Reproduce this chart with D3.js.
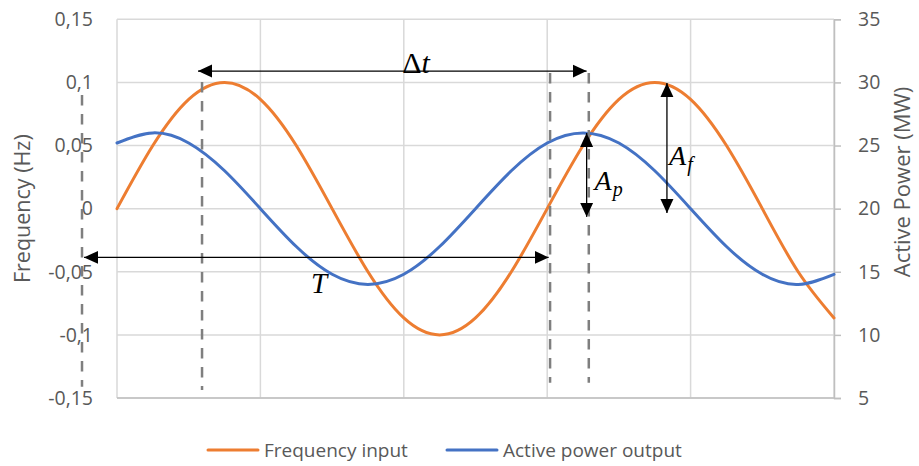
<!DOCTYPE html>
<html>
<head>
<meta charset="utf-8">
<script src="https://cdn.jsdelivr.net/npm/d3@7"></script>
<style>
  html, body { margin: 0; padding: 0; background: #fff; }
  svg { display: block; }
</style>
</head>
<body>
<div id="chart"></div>
<script>
// ---- data ----
const xValues = [0, 0.25, 0.5, 0.75, 1, 1.25, 1.5, 1.75, 2, 2.25, 2.5, 2.75, 3, 3.25, 3.5, 3.75, 4, 4.25, 4.5, 4.75, 5];
const frequencyInput = [0, 0.05, 0.0866, 0.1, 0.0866, 0.05, 0, -0.05, -0.0866, -0.1, -0.0866, -0.05, 0, 0.05, 0.0866, 0.1, 0.0866, 0.05, 0, -0.05, -0.0866];
const activePowerOutput = [25.2, 26, 25.2, 23, 20, 17, 14.8, 14, 14.8, 17, 20, 23, 25.2, 26, 25.2, 23, 20, 17, 14.8, 14, 14.8];
const leftTicks = [-0.15, -0.1, -0.05, 0, 0.05, 0.1, 0.15];
const leftTickLabels = ["-0,15", "-0,1", "-0,05", "0", "0,05", "0,1", "0,15"];
const rightTicks = [5, 10, 15, 20, 25, 30, 35];
const xGrid = [0, 1, 2, 3, 4, 5];
const seriesNames = ["Frequency input", "Active power output"];
const seriesColors = ["#ED7D31", "#4472C4"];
const axisTitles = ["Frequency (Hz)", "Active Power (MW)"];
// annotation marks, in data units (x, frequency axis)
const dashedLines = [
  { x: -0.244, y0: 0.090, y1: -0.141 },
  { x: 0.593, y0: 0.1003, y1: -0.1437 },
  { x: 3.02, y0: 0.1075, y1: -0.138 },
  { x: 3.29, y0: 0.1075, y1: -0.138 }
];
const hArrows = [
  { y: 0.109, x0: 0.565, x1: 3.275 },   // Δt
  { y: -0.0386, x0: -0.23, x1: 3.01 }   // T
];
const vArrows = [
  { x: 3.275, y0: 0.0599, y1: -0.0065 }, // A_p
  { x: 3.835, y0: 0.0995, y1: -0.0035 }  // A_f
];

// ---- layout ----
const W = 919, H = 466;
const m = { left: 117, right: 919 - 834, top: 19.3, bottom: 466 - 398 };

const svg = d3.select("#chart").append("svg").attr("width", W).attr("height", H);

const x = d3.scaleLinear().domain([0, 5]).range([m.left, W - m.right]);
const yL = d3.scaleLinear().domain([-0.15, 0.15]).range([H - m.bottom, m.top]);
const yR = d3.scaleLinear().domain([5, 35]).range([H - m.bottom, m.top]);

const font = "'Open Sans', 'Noto Sans', sans-serif";
const textColor = "#595959";

// gridlines
const grid = svg.append("g");
grid.selectAll("line.h").data(leftTicks).join("line")
  .attr("x1", x(0)).attr("x2", x(5))
  .attr("y1", d => yL(d)).attr("y2", d => yL(d))
  .attr("stroke", "#d9d9d9").attr("stroke-width", 1.5);
grid.selectAll("line.v").data(xGrid).join("line")
  .attr("x1", d => x(d)).attr("x2", d => x(d))
  .attr("y1", yL(0.15)).attr("y2", yL(-0.15))
  .attr("stroke", "#d9d9d9").attr("stroke-width", 1.5);

// left axis (labels only)
const leftAxis = d3.axisLeft(yL).tickValues(leftTicks)
  .tickFormat((d, i) => leftTickLabels[i]).tickSize(0).tickPadding(24);
const gL = svg.append("g").attr("transform", `translate(${m.left},0)`).call(leftAxis);
gL.select(".domain").remove();
gL.selectAll("text").attr("font-family", font).attr("font-size", 19.5).attr("fill", textColor);

// bottom axis line
svg.append("line")
  .attr("x1", x(0)).attr("x2", x(5)).attr("y1", yL(-0.15)).attr("y2", yL(-0.15))
  .attr("stroke", "#bfbfbf").attr("stroke-width", 1.5);

// right axis
const rightAxis = d3.axisRight(yR).tickValues(rightTicks).tickSize(7).tickPadding(17);
const gR = svg.append("g").attr("transform", `translate(${x(5)},0)`).call(rightAxis);
gR.select(".domain").attr("stroke", "#bfbfbf").attr("stroke-width", 1.5);
gR.selectAll(".tick line").attr("stroke", "#bfbfbf").attr("stroke-width", 1.5);
gR.selectAll("text").attr("font-family", font).attr("font-size", 19.5).attr("fill", textColor);

// axis titles
svg.append("text")
  .attr("transform", `translate(30,${yL(0)}) rotate(-90)`)
  .attr("text-anchor", "middle")
  .attr("font-family", font).attr("font-size", 21.5).attr("fill", textColor)
  .text(axisTitles[0]);
svg.append("text")
  .attr("transform", `translate(910,182) rotate(-90)`)
  .attr("text-anchor", "middle")
  .attr("font-family", font).attr("font-size", 22).attr("fill", textColor)
  .text(axisTitles[1]);

// series
const lineF = d3.line().x((d, i) => x(xValues[i])).y(d => yL(d)).curve(d3.curveNatural);
const lineP = d3.line().x((d, i) => x(xValues[i])).y(d => yR(d)).curve(d3.curveNatural);
svg.append("path").datum(frequencyInput).attr("d", lineF)
  .attr("fill", "none").attr("stroke", seriesColors[0]).attr("stroke-width", 3).attr("stroke-linecap", "round");
svg.append("path").datum(activePowerOutput).attr("d", lineP)
  .attr("fill", "none").attr("stroke", seriesColors[1]).attr("stroke-width", 3).attr("stroke-linecap", "round");

// dashed vertical lines
svg.append("g").selectAll("line").data(dashedLines).join("line")
  .attr("x1", d => x(d.x)).attr("x2", d => x(d.x))
  .attr("y1", d => yL(d.y0)).attr("y2", d => yL(d.y1))
  .attr("stroke", "#7f7f7f").attr("stroke-width", 2.5).attr("stroke-dasharray", "10.5,8.5");

// arrows
const defs = svg.append("defs");
defs.append("marker").attr("id", "ah").attr("viewBox", "0 0 14 14")
  .attr("refX", 14).attr("refY", 7).attr("markerWidth", 14).attr("markerHeight", 14)
  .attr("markerUnits", "userSpaceOnUse").attr("orient", "auto-start-reverse")
  .append("path").attr("d", "M0,0.5 L14,7 L0,13.5 Z").attr("fill", "#000");

svg.append("g").selectAll("line").data(hArrows).join("line")
  .attr("x1", d => x(d.x0)).attr("x2", d => x(d.x1))
  .attr("y1", d => yL(d.y)).attr("y2", d => yL(d.y))
  .attr("stroke", "#000").attr("stroke-width", 1.3)
  .attr("marker-start", "url(#ah)").attr("marker-end", "url(#ah)");
svg.append("g").selectAll("line").data(vArrows).join("line")
  .attr("x1", d => x(d.x)).attr("x2", d => x(d.x))
  .attr("y1", d => yL(d.y0)).attr("y2", d => yL(d.y1))
  .attr("stroke", "#000").attr("stroke-width", 1.3)
  .attr("marker-start", "url(#ah)").attr("marker-end", "url(#ah)");

// math labels
const serif = "'Liberation Serif', 'DejaVu Serif', serif";
const dt = svg.append("text").attr("x", x(2.085)).attr("y", yL(0.1075))
  .attr("text-anchor", "middle").attr("font-family", serif).attr("font-size", 30).attr("fill", "#000");
dt.append("tspan").text("Δ");
dt.append("tspan").attr("font-style", "italic").text("t");

svg.append("text").attr("x", x(1.41)).attr("y", yL(-0.0665))
  .attr("text-anchor", "middle").attr("font-family", serif).attr("font-size", 29)
  .attr("font-style", "italic").attr("fill", "#000").text("T");

function subLabel(cx, cy, main, sub) {
  const t = svg.append("text").attr("x", cx).attr("y", cy)
    .attr("font-family", serif).attr("font-size", 28).attr("font-style", "italic").attr("fill", "#000");
  t.append("tspan").text(main);
  t.append("tspan").attr("font-size", 20).attr("dx", 1).attr("dy", 6).text(sub);
}
subLabel(x(3.33), yL(0.0145), "A", "p");
subLabel(x(3.85), yL(0.0349), "A", "f");

// legend
const legend = svg.append("g");
const legendItems = [
  { name: seriesNames[0], color: seriesColors[0], x0: 208 },
  { name: seriesNames[1], color: seriesColors[1], x0: 447 }
];
legendItems.forEach(it => {
  legend.append("line").attr("x1", it.x0).attr("x2", it.x0 + 50).attr("y1", 450).attr("y2", 450)
    .attr("stroke", it.color).attr("stroke-width", 3).attr("stroke-linecap", "round");
  legend.append("text").attr("x", it.x0 + 56).attr("y", 457)
    .attr("font-family", font).attr("font-size", 19).attr("fill", textColor).text(it.name);
});
</script>
</body>
</html>
